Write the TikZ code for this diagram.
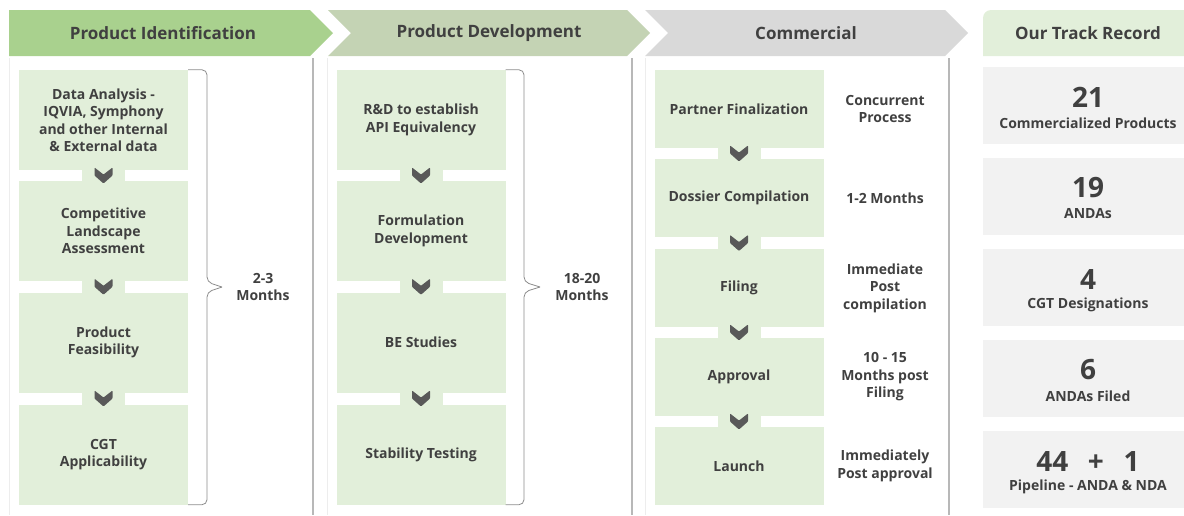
\documentclass[tikz,border=0pt]{standalone}
\usepackage{fontspec}
\setmainfont{Open Sans}
\usetikzlibrary{calc,positioning}
\definecolor{headA}{HTML}{A9D18E}
\definecolor{headB}{HTML}{C4D3B4}
\definecolor{headC}{HTML}{D9D9D9}
\definecolor{stepgreen}{HTML}{E2EFDA}
\definecolor{recgray}{HTML}{F2F2F2}
\definecolor{txtgray}{HTML}{404040}
\definecolor{chevgray}{HTML}{595959}
\tikzset{
headtext/.style={text=txtgray,font=\fontsize{17}{20}\selectfont\bfseries},
stepbox/.style={fill=stepgreen,minimum width=169pt,inner sep=0pt,align=center,text=txtgray,font=\fontsize{14}{17.5}\selectfont\bfseries},
tallbox/.style={stepbox,minimum height=100pt},
shortbox/.style={stepbox,minimum height=78pt},
bridge/.style={fill=stepgreen,minimum width=43pt,minimum height=13pt,inner sep=0pt},
chev/.style={fill=chevgray,rounded corners=0.8pt},
brace/.style={draw=black!45,line width=0.8pt,rounded corners=5pt},
timetext/.style={align=center,text=txtgray,font=\fontsize{14}{17.5}\selectfont\bfseries},
shade/.style={draw=black!28,line width=2.6pt},
edge/.style={draw=black!7,line width=0.8pt},
recbox/.style={fill=recgray,minimum width=201pt,minimum height=77pt,inner sep=0pt},
recnum/.style={text=txtgray,font=\fontsize{28}{30}\selectfont\bfseries},
reclab/.style={text=txtgray,font=\fontsize{14}{17}\selectfont\bfseries}
}
\begin{document}
\begin{tikzpicture}[x=1pt,y=-1pt]
\useasboundingbox (0,0) rectangle (1184,515);
% phase headers
\fill[headA] (9,10) -- (310,10) -- (333,33) -- (310,56) -- (9,56) -- cycle;
\fill[headB] (328,10) -- (627,10) -- (650,33) -- (627,56) -- (328,56) -- (351,33) -- cycle;
\fill[headC] (645,10) -- (945,10) -- (968,33) -- (945,56) -- (645,56) -- (668,33) -- cycle;
\node[headtext] (hident) at (163,33) {Product Identification};
\node[headtext] (hdev) at (489,33) {Product Development};
\node[headtext] (hcomm) at (806,33) {Commercial};
\foreach \l/\r in {9/313,327/632,645/949} {
\draw[edge] (\l,58) -- (\l,515);
\draw[shade] (\r,58) -- (\r,515);
}
% identification
\node[tallbox] (da) at (103.5,120) {Data Analysis -\\IQVIA, Symphony\\and other Internal\\\& External data};
\node[tallbox] (cla) at (103.5,231) {Competitive\\Landscape\\Assessment};
\node[tallbox] (pf) at (103.5,342.5) {Product\\Feasibility};
\node[tallbox] (cgt) at (103.5,454.5) {CGT\\Applicability};
% development
\node[tallbox] (rd) at (421,120) {R\&D to establish\\API Equivalency};
\node[tallbox] (fd) at (421,231) {Formulation\\Development};
\node[tallbox] (be) at (421,342.5) {BE Studies};
\node[tallbox] (st) at (421,454.5) {Stability Testing};
% commercial
\node[shortbox] (pfin) at (739,109) {Partner Finalization};
\node[shortbox] (dc) at (739,198) {Dossier Compilation};
\node[shortbox] (fil) at (739,288) {Filing};
\node[shortbox] (app) at (739,377) {Approval};
\node[shortbox] (lau) at (739,466) {Launch};
\node[timetext] (tpfin) at (885,109) {Concurrent\\Process};
\node[timetext] (tdc) at (885,198) {1-2 Months};
\node[timetext] (tfil) at (885,288) {Immediate\\Post\\compilation};
\node[timetext] (tapp) at (885,377) {10 - 15\\Months post\\Filing};
\node[timetext] (tlau) at (885,466) {Immediately\\Post approval};
\foreach \a/\b in {da/cla,cla/pf,pf/cgt,rd/fd,fd/be,be/st,pfin/dc,dc/fil,fil/app,app/lau} {
\node[bridge] (g\a) at ($(\a.south)!0.5!(\b.north)$) {};
\fill[chev] (g\a) ++(-9,-8) -- ++(9,7) -- ++(9,-7) -- ++(0,8) -- ++(-9,8) -- ++(-9,-8) -- cycle;
}
% durations
\coordinate (tipA) at (222,287);
\coordinate (tipB) at (540,287);
\draw[brace] (da.north east) -| (207,282) -- (tipA);
\draw[brace] (cgt.south east) -| (207,292) -- (tipA);
\draw[brace] (rd.north east) -| (524,282) -- (tipB);
\draw[brace] (st.south east) -| (524,292) -- (tipB);
\node[timetext] (durA) at (263,287) {2-3\\Months};
\node[timetext] (durB) at (582,287) {18-20\\Months};
% track record
\fill[stepgreen] (983,56) [rounded corners=8pt] -- (983,10) [sharp corners] -- (1184,10) -- (1184,56) -- cycle;
\node[headtext] (hrec) at (1088,33) {Our Track Record};
\foreach \i/\yc/\num/\lab in {1/105.5/21/Commercialized Products,2/196.5/19/ANDAs,3/287.5/4/CGT Designations,4/378.5/6/ANDAs Filed,5/469.5/{44\hspace{.7em}+\hspace{.7em}1}/Pipeline - ANDA \& NDA} {
\node[recbox] (rec\i) at (1083.5,\yc) {};
\node[recnum] (num\i) at (1088,\yc-8.5) {\num};
\node[reclab] (lab\i) at (1088,\yc+17.5) {\lab};
}
\end{tikzpicture}
\end{document}
